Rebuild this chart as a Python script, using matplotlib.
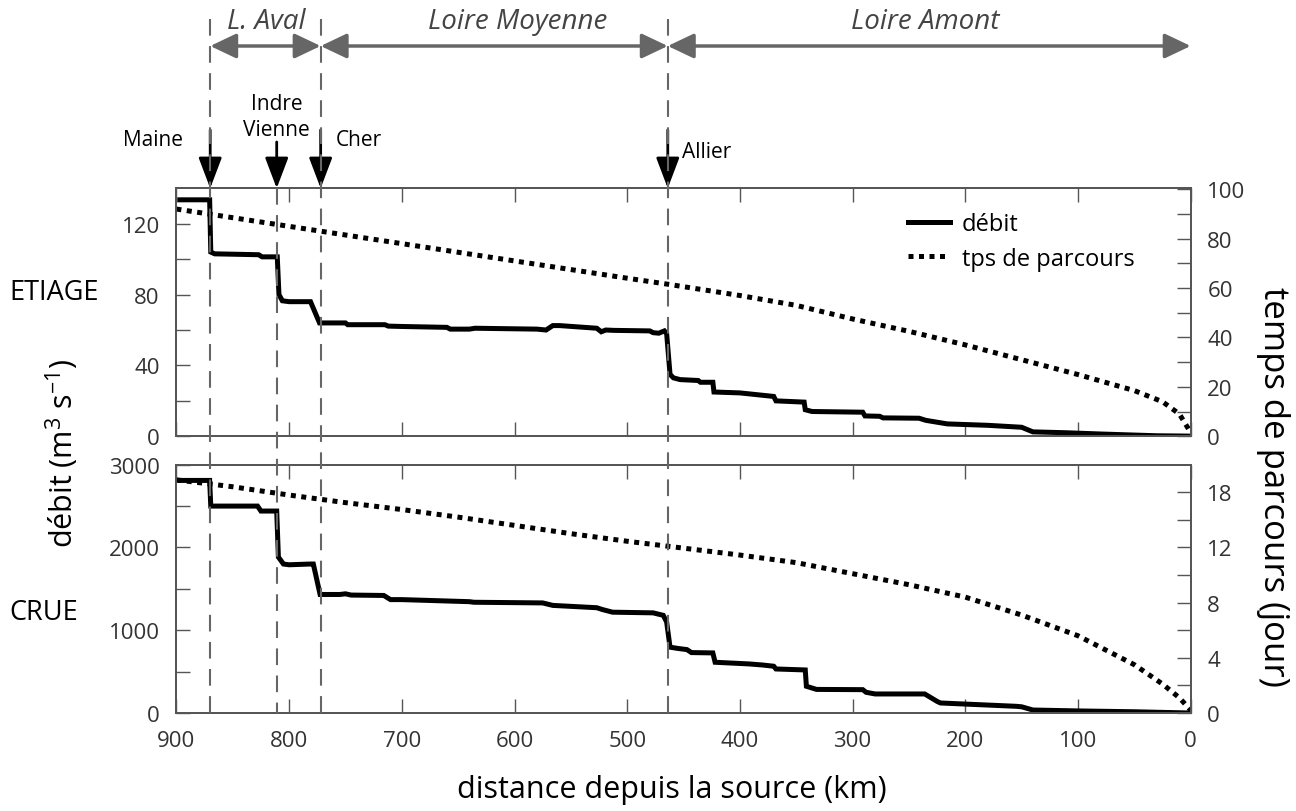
import numpy as np
import matplotlib.pyplot as plt
from matplotlib.lines import Line2D
from matplotlib.transforms import blended_transform_factory

plt.rcParams['font.family'] = ['Open Sans', 'DejaVu Sans']
plt.rcParams['mathtext.fontset'] = 'custom'
plt.rcParams['mathtext.rm'] = 'Open Sans'
plt.rcParams['mathtext.it'] = 'Open Sans:italic'

# --- etiage (low flow) ---
etiage_km = [897, 870.5, 869.5, 866, 827, 824, 810.5, 809, 806, 800, 781, 773, 750, 748,
             715, 712, 700, 660, 657, 640, 635, 580, 572, 566, 560, 527, 523, 519, 512,
             480, 477, 472, 467, 465, 462, 459, 453, 437, 435, 424, 423, 400, 385, 370,
             368, 343, 342, 336, 291, 289, 276, 273, 241, 235, 216, 180, 150, 140, 110,
             80, 30, 0]
etiage_q = [133.5, 133.5, 104, 103, 102.5, 101.3, 101.3, 80, 76.5, 76, 76, 64, 64, 63,
            63, 62.2, 62, 61.5, 60.5, 60.5, 61, 60.5, 60, 62.5, 62.5, 61, 59, 60, 59.8,
            59.5, 58.5, 58.2, 59.5, 58, 35, 33, 32, 31.5, 30.5, 30.5, 25, 24.5, 23.5, 22.5,
            20, 19.3, 15, 14, 13.6, 11.5, 11.3, 10.4, 10.2, 9, 7, 6.2, 5.1, 2.5, 2.0,
            1.3, 0.3, 0.1]
etiage_tps_km = [900, 850, 800, 750, 700, 650, 600, 550, 500, 463, 400, 350, 300, 250,
                 200, 150, 100, 50, 25, 10, 0]
etiage_tps = [92, 88.5, 85, 81.5, 78, 74.5, 71, 67.5, 64, 61.5, 57, 53, 47.5, 42.5,
              37, 31, 25, 18.5, 14, 9, 1.5]

# --- crue (flood) ---
crue_km = [897, 870.5, 869.5, 828, 825, 811, 809.5, 805, 800, 781, 778.5, 772.5, 755, 750,
           745, 716, 710, 700, 640, 636, 575, 566, 527, 522, 513, 477, 468, 465, 462,
           455, 447, 443, 424, 422, 392, 380, 370, 368, 342, 341, 332, 291, 288, 280,
           236, 225, 222, 155, 150, 140, 100, 50, 0]
crue_q = [2810, 2810, 2500, 2500, 2440, 2440, 1884, 1800, 1791, 1800, 1800, 1432, 1432, 1440,
          1425, 1420, 1370, 1370, 1345, 1338, 1330, 1300, 1272, 1250, 1218, 1210, 1180, 1100, 795,
          780, 766, 730, 726, 613, 593, 580, 565, 532, 520, 323, 285, 282, 250, 230,
          230, 140, 121, 81, 75, 36, 25, 15, 0]
crue_tps_km = [900, 850, 800, 750, 700, 650, 600, 550, 500, 450, 400, 350, 300, 250,
               200, 150, 100, 50, 25, 10, 0]
crue_tps = [16.9, 16.4, 15.8, 15.25, 14.75, 14.2, 13.6, 13.0, 12.45, 11.95, 11.45, 10.9,
            10.1, 9.3, 8.4, 7.1, 5.6, 3.5, 2.1, 1.1, 0.2]

crue_tps_ticks = [0, 4, 8, 12, 16]
crue_tps_labels = ['0', '4', '8', '12', '18']

# confluences and river sections
rivers = ['Maine', 'Indre', 'Vienne', 'Cher', 'Allier']
confluence_km = [870, 811, 772, 464]
sections = ['L. Aval', 'Loire Moyenne', 'Loire Amont']
section_from = [870, 772, 464]
section_to = [772, 464, 0]
section_text_km = [820, 597, 236]

W, H = 1296, 812
fig = plt.figure(figsize=(W / 100, H / 100), dpi=100)


def fy(px):
    return 1 - px / H


axl = 176.4 / W
axw = (1190.7 - 176.4) / W
ax1 = fig.add_axes([axl, fy(437.3), axw, 248 / H])
ax2 = fig.add_axes([axl, fy(714), axw, 248.3 / H])
ax1r = ax1.twinx()
ax2r = ax2.twinx()

spine_c = '#555555'
tick_c = '#333333'

for a in (ax1, ax2):
    a.set_xticks(np.arange(0, 901, 100))
    a.set_xlim(900, 0)
for a in (ax1, ax2, ax1r, ax2r):
    for s in a.spines.values():
        s.set_color(spine_c)
        s.set_linewidth(1.3)
    a.tick_params(which='both', direction='in', length=10, width=1, color=spine_c,
                  labelsize=16, labelcolor=tick_c, pad=12)
ax1.tick_params(axis='x', top=True, labelbottom=False)
ax2.tick_params(axis='x', top=True)

# left axes: discharge
ax1.plot(etiage_km, etiage_q, color='black', lw=3.6, solid_joinstyle='miter')
ax1.set_ylim(0, 140)
ax1.set_yticks([0, 40, 80, 120])
ax1.set_yticks([20, 60, 100], minor=True)

ax2.plot(crue_km, crue_q, color='black', lw=3.6, solid_joinstyle='miter')
ax2.set_ylim(0, 3000)
ax2.set_yticks([0, 1000, 2000, 3000])
ax2.set_yticks([500, 1500, 2500], minor=True)

# right axes: travel time
l2, = ax1r.plot(etiage_tps_km, etiage_tps, color='black', lw=3.6,
                linestyle=(0, (1, 1.1)), dash_capstyle='butt')
ax1r.set_ylim(0, 100.4)
ax1r.set_yticks([0, 20, 40, 60, 80, 100])
ax1r.set_yticks([10, 30, 50, 70, 90], minor=True)

ax2r.plot(crue_tps_km, crue_tps, color='black', lw=3.6,
          linestyle=(0, (1, 1.1)), dash_capstyle='butt')
ax2r.set_ylim(0, 18)
ax2r.set_yticks(crue_tps_ticks)
ax2r.set_yticklabels(crue_tps_labels)
ax2r.set_yticks([2, 6, 10, 14], minor=True)

l1 = Line2D([], [], color='black', lw=3.6)
ax1r.legend([l1, l2], ['débit', 'tps de parcours'], loc='upper left',
            bbox_to_anchor=(0.7, 0.99), frameon=False, fontsize=17,
            handlelength=1.8, handletextpad=0.5, labelspacing=0.45)

# confluence markers above the panels
tr = blended_transform_factory(ax1.transData, fig.transFigure)
dash_c = '#666666'
for i, km in enumerate(confluence_km):
    top = fy(189.3) if i == 1 else fy(20)
    fig.add_artist(Line2D([km, km], [top, fy(714)], transform=tr, color=dash_c,
                          lw=1.5, linestyle=(0, (8, 5))))

arrow_top = [fy(131), fy(143), fy(131), fy(131)]
for km, yt in zip(confluence_km, arrow_top):
    ax1.annotate('', xy=(km, fy(189.3)), xytext=(km, yt),
                 xycoords=tr, textcoords=tr, annotation_clip=False,
                 arrowprops=dict(arrowstyle='-|>,head_length=0.95,head_width=0.36',
                                 mutation_scale=20, color='black', lw=2,
                                 shrinkA=0, shrinkB=0))

fs_r = 15
ax1.text(894, fy(141), rivers[0], transform=tr, ha='right', va='center', fontsize=fs_r)
ax1.text(811, fy(104), rivers[1], transform=tr, ha='center', va='center', fontsize=fs_r)
ax1.text(811, fy(130), rivers[2], transform=tr, ha='center', va='center', fontsize=fs_r)
ax1.text(759, fy(141), rivers[3], transform=tr, ha='left', va='center', fontsize=fs_r)
ax1.text(451, fy(152), rivers[4], transform=tr, ha='left', va='center', fontsize=fs_r)

# river sections
sec_c = '#666666'
for name, a, b, tk in zip(sections, section_from, section_to, section_text_km):
    ax1.annotate('', xy=(b, fy(47)), xytext=(a, fy(47)),
                 xycoords=tr, textcoords=tr, annotation_clip=False,
                 arrowprops=dict(arrowstyle='<|-|>,head_length=0.8,head_width=0.38',
                                 mutation_scale=20, color=sec_c, lw=2.5,
                                 shrinkA=0, shrinkB=0))
    ax1.text(tk, fy(22), name, transform=tr, ha='center', va='center',
             fontsize=20, style='italic', color='#444444')

fig.text(9 / W, fy(293), 'ETIAGE', ha='left', va='center', fontsize=19.5)
fig.text(9 / W, fy(613), 'CRUE', ha='left', va='center', fontsize=19.5)
fig.text(62 / W, fy(453), 'débit (m$^3$ s$^{-1}$)', rotation=90, ha='center',
         va='center', fontsize=22)
fig.text(1273 / W, fy(487), 'temps de parcours (jour)', rotation=-90, ha='center',
         va='center', fontsize=25)
fig.text(672 / W, fy(790), 'distance depuis la source (km)', ha='center',
         va='center', fontsize=22)

fig.savefig('out.png', dpi=100)
